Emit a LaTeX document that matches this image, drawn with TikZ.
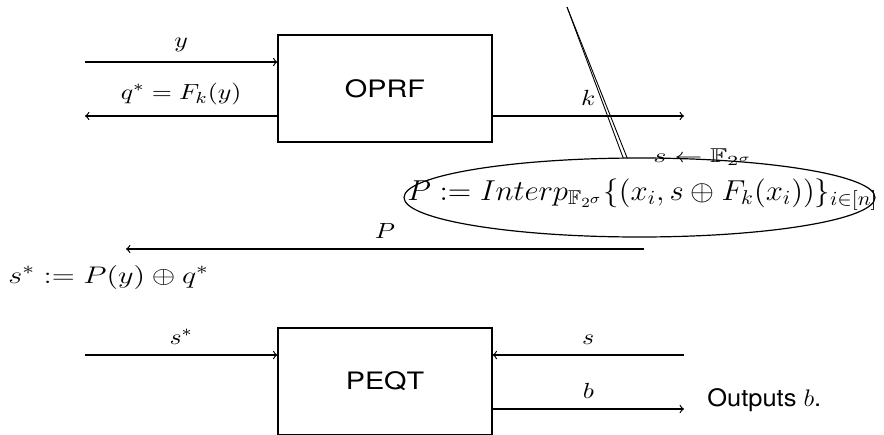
\documentclass[tikz,border=0pt]{standalone}
\usepackage{amsmath,amssymb}
\usepackage{fontspec}
\setsansfont{TeX Gyre Heros}
\usetikzlibrary{shapes.geometric}
% horizontal stretch applied to the texts of the figure
\newcommand\stretchx[2][1.18]{\scalebox{#1}[1]{#2}}
\begin{document}
\begin{tikzpicture}[x=0.5pt,y=-0.5pt,
  box/.style={draw, line width=0.6pt, minimum width=107pt, minimum height=53.5pt,
    inner sep=0pt, font=\sffamily\large},
  wire/.style={->, line width=0.6pt},
  lab/.style={above=5pt, inner sep=0pt, font=\fontsize{11}{13}\selectfont},
  free/.style={anchor=base west, inner sep=0pt}]
\useasboundingbox (0,0) rectangle (884,434);
\clip (0,0) rectangle (884,434);

% the two functionalities
\node[box] (oprf) at (385,88.5) {\stretchx[1.2]{OPRF}};
\node[box] (peqt) at (385,381.5) {\stretchx[1.2]{PEQT}};

% OPRF inputs and outputs
\coordinate (yin) at (85,62);
\draw[wire] (yin) -- (yin -| oprf.west) node[lab, midway] (ylab) {\stretchx{$y$}};
\coordinate (qout) at (85,116);
\draw[wire] (qout -| oprf.west) -- (qout) node[lab, midway] (qlab) {\stretchx{$q^* = F_k(y)$}};
\coordinate (kout) at (684,116);
\draw[wire] (kout -| oprf.east) -- (kout) node[lab, midway] (klab) {\stretchx{$k$}};

% sampling of s and the interpolated polynomial
\coordinate (dtop) at (567,7);
\coordinate (dleft) at (623.3,158.3);
\coordinate (dright) at (627.3,158.3);
\draw[line width=0.45pt] (dtop) -- (dleft);
\draw[line width=0.45pt] (dtop) -- (dright);
\node[draw, ellipse, line width=0.6pt, minimum width=235.5pt, minimum height=39.5pt,
  inner sep=0pt, outer sep=0pt] (interp) at (639.5,197.5) {};
\node[free] (sample) at (653,162) {\stretchx[1.4]{$s \leftarrow \mathbb{F}_{2^\sigma}$}};
\node[free, font=\Large] (ptext) at (407,200)
  {\stretchx[1.07]{$P := Interp_{\mathbb{F}_{2^\sigma}}\{(x_i, s \oplus F_k(x_i))\}_{i\in[n]}$}};

% sending P back
\coordinate (pstart) at (644,249);
\coordinate (pend) at (126,249);
\draw[wire] (pstart) -- (pend) node[lab, midway] (plab) {\stretchx{$P$}};
\node[free, font=\fontsize{13}{15}\selectfont] (sstar) at (8,283)
  {\stretchx[1.26]{$s^* := P(y) \oplus q^*$}};

% PEQT inputs and output
\coordinate (ssin) at (85,355);
\draw[wire] (ssin) -- (ssin -| peqt.west) node[lab, midway] (sslab) {\stretchx{$s^*$}};
\coordinate (sin) at (684,355);
\draw[wire] (sin) -- (sin -| peqt.east) node[lab, midway] (slab) {\stretchx{$s$}};
\coordinate (bout) at (684,409);
\draw[wire] (bout -| peqt.east) -- (bout) node[lab, midway] (blab) {\stretchx{$b$}};
\node[free, font=\sffamily\large] (outb) at (707,406) {\stretchx[1.06]{Outputs $b$.}};
\end{tikzpicture}
\end{document}
